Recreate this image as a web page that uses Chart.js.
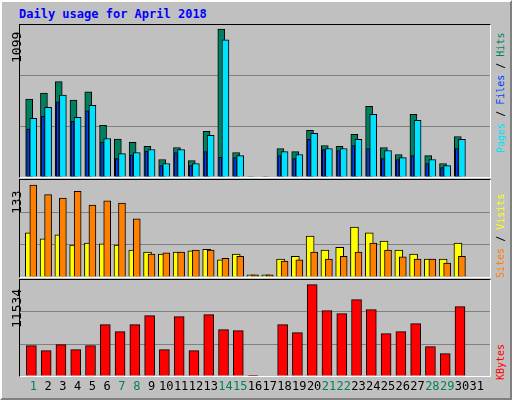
<!DOCTYPE html>
<html>
<head>
<meta charset="utf-8">
<script src="https://cdn.jsdelivr.net/npm/chart.js@4"></script>
<style>
  body { margin: 0; background: #fff; }
  #frame { position: absolute; left: 0; top: 0; width: 508px; height: 396px; background: #c0c0c0;
    border-top: 2px solid #fff; border-left: 2px solid #fff; border-right: 2px solid #808080; border-bottom: 2px solid #808080; }
  .panel { position: absolute; left: 19px; width: 470px; border: 1px solid #000; border-right-color: #fff; border-bottom-color: #fff; }
  .panel canvas { position: absolute; left: 0; top: 0; }
  .txt { position: absolute; font-family: "DejaVu Sans Mono", monospace; font-size: 12px; white-space: nowrap; }
  .side { font-size: 10px; }
  .left { font-size: 13px; }
  .rot { transform-origin: 0 0; transform: rotate(-90deg); }
  #title { left: 19px; top: 7px; color: #0000ff; font-weight: bold; }
</style>
</head>
<body>
<div id="frame"></div>
<div class="txt" id="title">Daily usage for April 2018</div>

<div class="panel" style="top:24px;height:152px"><canvas id="c1" width="470" height="152"></canvas></div>
<div class="panel" style="top:179px;height:97px"><canvas id="c2" width="470" height="97"></canvas></div>
<div class="panel" style="top:279px;height:96px"><canvas id="c3" width="470" height="118"></canvas></div>

<div class="txt left rot" style="left:9px;top:63px">1099</div>
<div class="txt left rot" style="left:9px;top:214px">133</div>
<div class="txt left rot" style="left:9px;top:328px">11534</div>

<div class="txt side rot" style="left:495px;top:153px"><span style="color:#00e0ff">Pages</span> / <span style="color:#0040ff">Files</span> / <span style="color:#008060">Hits</span></div>
<div class="txt side rot" style="left:495px;top:278px"><span style="color:#ff8000">Sites</span> / <span style="color:#ffff00">Visits</span></div>
<div class="txt side rot" style="left:495px;top:380px"><span style="color:#ff0000">KBytes</span></div>

<script>
const days = Array.from({ length: 31 }, (_, i) => i + 1);
const weekendDays = [1, 7, 8, 14, 15, 21, 22, 28, 29];

const hits  = [578, 623, 708, 571, 633, 384, 282, 257, 227, 130, 219, 122, 339, 1099, 182, 4, 4, 212, 189, 346, 234, 227, 316, 525, 219, 167, 466, 159, 100, 301, 0];
const files = [436, 518, 608, 443, 533, 286, 174, 182, 204, 100, 204, 100, 309, 1019, 159, 0, 0, 189, 167, 324, 212, 212, 279, 466, 197, 144, 421, 130, 85, 279, 0];
const pages = [356, 451, 558, 414, 491, 259, 137, 162, 192, 85, 182, 85, 189, 147, 144, 0, 0, 159, 137, 279, 204, 197, 234, 212, 137, 130, 159, 100, 70, 212, 0];

const visits = [64, 55, 61, 46, 49, 48, 46, 39, 36, 33, 36, 38, 40, 25, 33, 3, 3, 26, 30, 59, 39, 43, 72, 64, 52, 39, 33, 26, 26, 49, 0];
const sites  = [133, 119, 114, 124, 104, 110, 107, 84, 33, 35, 36, 39, 39, 27, 30, 3, 3, 23, 25, 36, 26, 30, 36, 49, 39, 29, 26, 26, 20, 30, 0];

const kbytes = [3831, 3200, 3957, 3326, 3831, 6483, 5599, 6483, 7620, 3326, 7493, 3200, 7746, 5852, 5725, 100, 0, 6483, 5473, 11534, 8251, 7872, 9641, 8378, 5346, 5599, 6609, 3705, 2821, 8757, 0];

function pts(values, shift) {
  return values.map((v, i) => ({ x: days[i] + shift, y: v }));
}

function bars(label, values, shift, color, width, order) {
  return {
    label: label, data: pts(values, shift), backgroundColor: color,
    borderColor: "#000", borderWidth: 1, barThickness: width, order: order, grouped: false
  };
}

function options(max, extraBottom) {
  return {
    responsive: false, animation: false, events: [],
    layout: { padding: { bottom: extraBottom || 0 } },
    plugins: { legend: { display: false }, tooltip: { enabled: false } },
    scales: {
      x: { type: "linear", min: 0.1, max: 31.9, offset: false, display: false },
      y: {
        min: 0, max: max,
        afterBuildTicks: (s) => { s.ticks = [0, 1, 2, 3].map(k => ({ value: max * k / 3 })); },
        ticks: { display: false },
        border: { display: false },
        grid: { color: (c) => (c.index === 1 || c.index === 2) ? "#808080" : "rgba(0,0,0,0)", lineWidth: 1, drawTicks: false }
      }
    }
  };
}

new Chart(document.getElementById("c1"), {
  type: "bar",
  data: { datasets: [
    bars("Hits", hits, -0.28, "#008060", 7, 3),
    bars("Pages", pages, -0.35, "#0040ff", 3, 2),
    bars("Files", files, 0, "#00e0ff", 7, 1)
  ] },
  options: options(1099 * 151 / 147)
});

new Chart(document.getElementById("c2"), {
  type: "bar",
  data: { datasets: [
    bars("Visits", visits, -0.27, "#ffff00", 8, 2),
    bars("Sites", sites, 0, "#ff8000", 7, 1)
  ] },
  options: options(133 * 97 / 92)
});

const dayLabels = {
  id: "dayLabels",
  afterDraw(chart) {
    const ctx = chart.ctx, x = chart.scales.x;
    ctx.save();
    ctx.font = "12px 'DejaVu Sans Mono'";
    ctx.textAlign = "center";
    ctx.textBaseline = "middle";
    days.forEach(d => {
      ctx.fillStyle = weekendDays.includes(d) ? "#008060" : "#000";
      ctx.fillText(String(d), x.getPixelForValue(d), chart.chartArea.bottom + 11);
    });
    ctx.restore();
  }
};

new Chart(document.getElementById("c3"), {
  type: "bar",
  data: { datasets: [bars("KBytes", kbytes, -0.13, "#ff0000", 10, 1)] },
  options: options(11534 * 96 / 91.4, 22),
  plugins: [dayLabels]
});
</script>
</body>
</html>
